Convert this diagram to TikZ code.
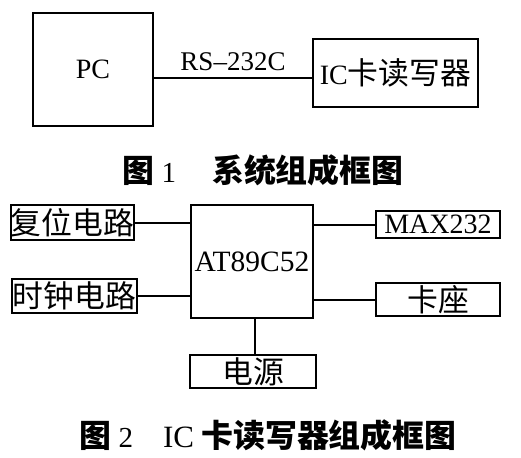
\documentclass[tikz,border=0pt]{standalone}
\usepackage{fontspec}
\setmainfont{Liberation Serif}
\newfontfamily\cjk[Scale=1.1]{Noto Sans CJK SC}
\begin{document}
\begin{tikzpicture}[x=1pt,y=-1pt,line width=2pt,
  blk/.style={draw,inner sep=0pt,font=\fontsize{28}{30}\selectfont},
  capt/.style={inner sep=0pt,font=\fontsize{29}{30}\selectfont}]
\useasboundingbox (0,0) rectangle (521,457);
% figure 1
\node[blk,minimum width=120pt,minimum height=113pt] (pc) at (93,69.5) {PC};
\node[blk,minimum width=165pt,minimum height=68pt] (reader) at (395.5,73) {IC{\cjk 卡读写器}};
\draw ([yshift=-5pt]reader.west) -- ([yshift=-5pt]pc.east |- reader.west)
  node[midway,above=3pt,font=\fontsize{27}{30}\selectfont] (rs) {RS--232C};
\node[capt] (capt1) at (263,170) {{\cjk\bfseries 图} 1\hspace{36pt}{\cjk\bfseries 系统组成框图}};
% figure 2
\node[blk,minimum width=121pt,minimum height=35pt] (reset) at (72.5,222.5) {\cjk 复位电路};
\node[blk,minimum width=125pt,minimum height=34pt] (clock) at (74.5,296) {\cjk 时钟电路};
\node[blk,minimum width=122pt,minimum height=113pt,font=\fontsize{29.5}{30}\selectfont] (mcu) at (252,261.5) {AT89C52};
\node[blk,minimum width=124pt,minimum height=27pt] (max) at (438,224.5) {MAX232};
\node[blk,minimum width=124pt,minimum height=33pt] (seat) at (438,299.5) {\cjk 卡座};
\node[blk,minimum width=126pt,minimum height=33pt] (power) at (253,371.5) {\cjk 电源};
\draw (reset.east) -- (mcu.west |- reset.east);
\draw (clock.east) -- (mcu.west |- clock.east);
\draw (max.west) -- (mcu.east |- max.west);
\draw (seat.west) -- (mcu.east |- seat.west);
\draw ([xshift=3pt]mcu.south) -- ([xshift=3pt]mcu.south |- power.north);
\node[capt] (capt2) at (268,435) {{\cjk\bfseries 图} 2\hspace{30pt}{\fontsize{31}{30}\selectfont IC} {\cjk\bfseries 卡读写器组成框图}};
\end{tikzpicture}
\end{document}
